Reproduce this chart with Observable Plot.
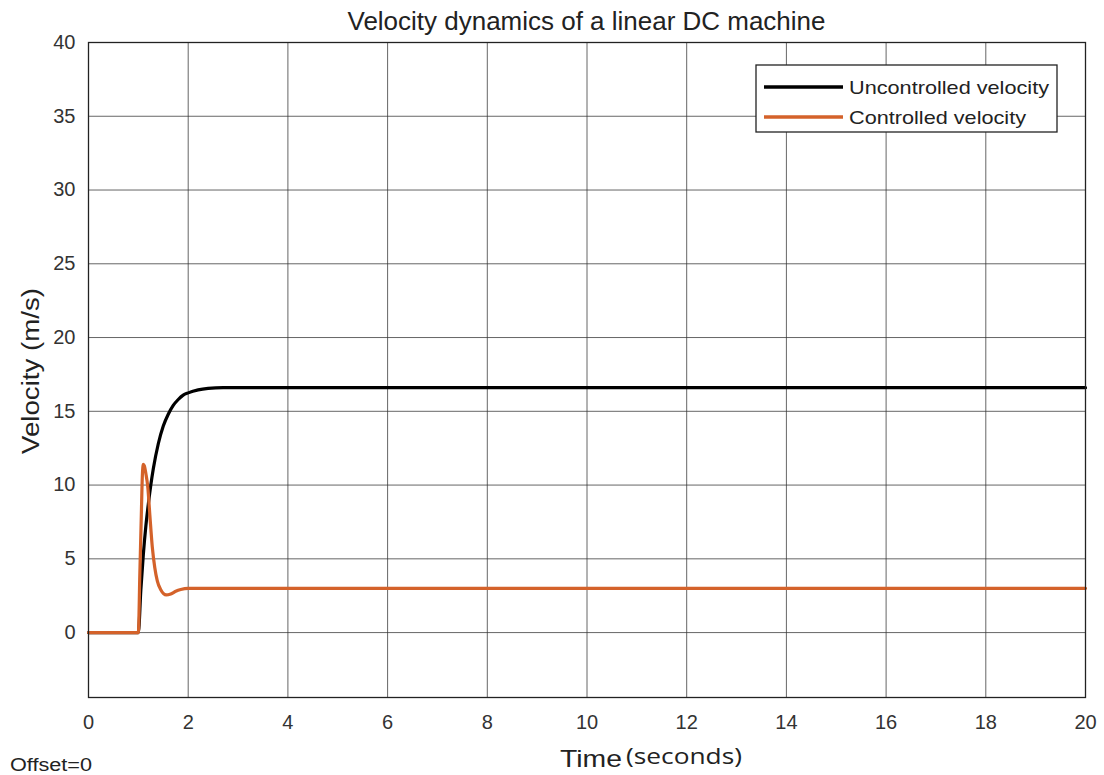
<!DOCTYPE html>
<html>
<head>
<meta charset="utf-8">
<script src="https://cdn.jsdelivr.net/npm/d3@7"></script>
<script src="https://cdn.jsdelivr.net/npm/@observablehq/plot@0.6"></script>
<style>
  html, body { margin: 0; padding: 0; background: #fff; }
  #chart { position: relative; width: 1104px; height: 775px; }
</style>
</head>
<body>
<div id="chart"></div>
<script>
// ---- data ----
const titleText = "Velocity dynamics of a linear DC machine";
const xTicks = [0, 2, 4, 6, 8, 10, 12, 14, 16, 18, 20];
const yTicks = [0, 5, 10, 15, 20, 25, 30, 35, 40];
const seriesNames = ["Uncontrolled velocity", "Controlled velocity"];

const tUncontrolled = [0, 1.0, 1.05, 1.1, 1.15, 1.2, 1.25, 1.3, 1.4, 1.5, 1.6, 1.7, 1.8, 1.9, 2.0, 2.2, 2.4, 2.7, 3.0, 4.0, 20];
const vUncontrolled = [0, 0, 2.9, 5.3, 7.2, 8.7, 10.0, 11.1, 12.8, 14.0, 14.8, 15.4, 15.8, 16.1, 16.25, 16.45, 16.55, 16.6, 16.6, 16.6, 16.6];

const tControlled = [0, 1.0, 1.03, 1.06, 1.08, 1.1, 1.12, 1.15, 1.19, 1.23, 1.28, 1.33, 1.38, 1.45, 1.56, 1.65, 1.75, 1.85, 2.0, 2.5, 20];
const vControlled = [0, 0, 4.0, 8.0, 10.6, 11.4, 11.3, 10.8, 9.85, 8.0, 5.8, 4.4, 3.5, 2.9, 2.55, 2.62, 2.8, 2.92, 3.0, 3.0, 3.0];

const colors = ["#000000", "#d4622a"];

const rows = [
  ...tUncontrolled.map((t, i) => ({t, v: vUncontrolled[i], s: seriesNames[0]})),
  ...tControlled.map((t, i) => ({t, v: vControlled[i], s: seriesNames[1]}))
];

const W = 1104, H = 775;
const mL = 88, mR = 19, mT = 42, mB = 78;
const font = "Liberation Sans, Arial, sans-serif";

const chart = Plot.plot({
  width: W, height: H,
  marginLeft: mL, marginRight: mR, marginTop: mT, marginBottom: mB,
  style: {fontFamily: font, fontSize: "20px", color: "#333", background: "#fff"},
  x: {domain: [0, 20], ticks: xTicks, label: null},
  y: {domain: [-4.4, 40], ticks: yTicks, label: null},
  color: {domain: seriesNames, range: colors},
  marks: [
    Plot.gridX(xTicks, {stroke: "#333", strokeOpacity: 0.75, strokeWidth: 1}),
    Plot.gridY(yTicks, {stroke: "#333", strokeOpacity: 0.75, strokeWidth: 1}),
    Plot.axisX(xTicks, {tickSize: 0, tickPadding: 17, fontSize: 20, fill: "#333"}),
    Plot.axisY(yTicks, {tickSize: 0, tickPadding: 13, fontSize: 20, fill: "#333"}),
    Plot.lineY(rows, {x: "t", y: "v", z: "s", stroke: "s", strokeWidth: 3.2, curve: "monotone-x"}),
    Plot.frame({stroke: "#222", strokeWidth: 1.3})
  ]
});

document.getElementById("chart").appendChild(chart);

// ---- annotations: title, axis labels, legend ----
const svg = d3.select(chart);
const cx = (mL + (W - mR)) / 2;

svg.append("text")
  .attr("x", cx).attr("y", 30)
  .attr("text-anchor", "middle")
  .attr("textLength", 478).attr("lengthAdjust", "spacingAndGlyphs")
  .attr("font-family", font).attr("font-size", 25).attr("fill", "#222")
  .text(titleText);

svg.append("text")
  .attr("x", 560).attr("y", 767).attr("text-anchor", "start")
  .attr("textLength", 62).attr("lengthAdjust", "spacingAndGlyphs")
  .attr("font-family", font).attr("font-size", 24).attr("fill", "#222")
  .text("Time");
svg.append("text")
  .attr("x", 626).attr("y", 764).attr("text-anchor", "start")
  .attr("textLength", 116).attr("lengthAdjust", "spacingAndGlyphs")
  .attr("font-family", "Open Sans, sans-serif").attr("font-size", 22).attr("fill", "#222")
  .text("(seconds)");

svg.append("text")
  .attr("transform", `translate(39,${371}) rotate(-90)`)
  .attr("text-anchor", "middle")
  .attr("textLength", 166).attr("lengthAdjust", "spacingAndGlyphs")
  .attr("font-family", font).attr("font-size", 23).attr("fill", "#222")
  .text("Velocity (m/s)");

svg.append("text")
  .attr("x", 10).attr("y", 771).attr("text-anchor", "start")
  .attr("textLength", 82).attr("lengthAdjust", "spacingAndGlyphs")
  .attr("font-family", font).attr("font-size", 18).attr("fill", "#222")
  .text("Offset=0");

// legend
const lg = svg.append("g");
const lx = 756, ly = 65, lw = 301, lh = 67;
lg.append("rect").attr("x", lx).attr("y", ly).attr("width", lw).attr("height", lh)
  .attr("fill", "#fff").attr("stroke", "#222").attr("stroke-width", 1.3);
const legendTextLen = [200, 177];
seriesNames.forEach((name, i) => {
  const yy = ly + 22 + i * 30;
  lg.append("line").attr("x1", lx + 8).attr("x2", lx + 87).attr("y1", yy).attr("y2", yy)
    .attr("stroke", colors[i]).attr("stroke-width", 3.6);
  lg.append("text").attr("x", lx + 93).attr("y", yy + 7).attr("text-anchor", "start")
    .attr("textLength", legendTextLen[i]).attr("lengthAdjust", "spacingAndGlyphs")
    .attr("font-family", font).attr("font-size", 19).attr("fill", "#222")
    .text(name);
});
</script>
</body>
</html>
